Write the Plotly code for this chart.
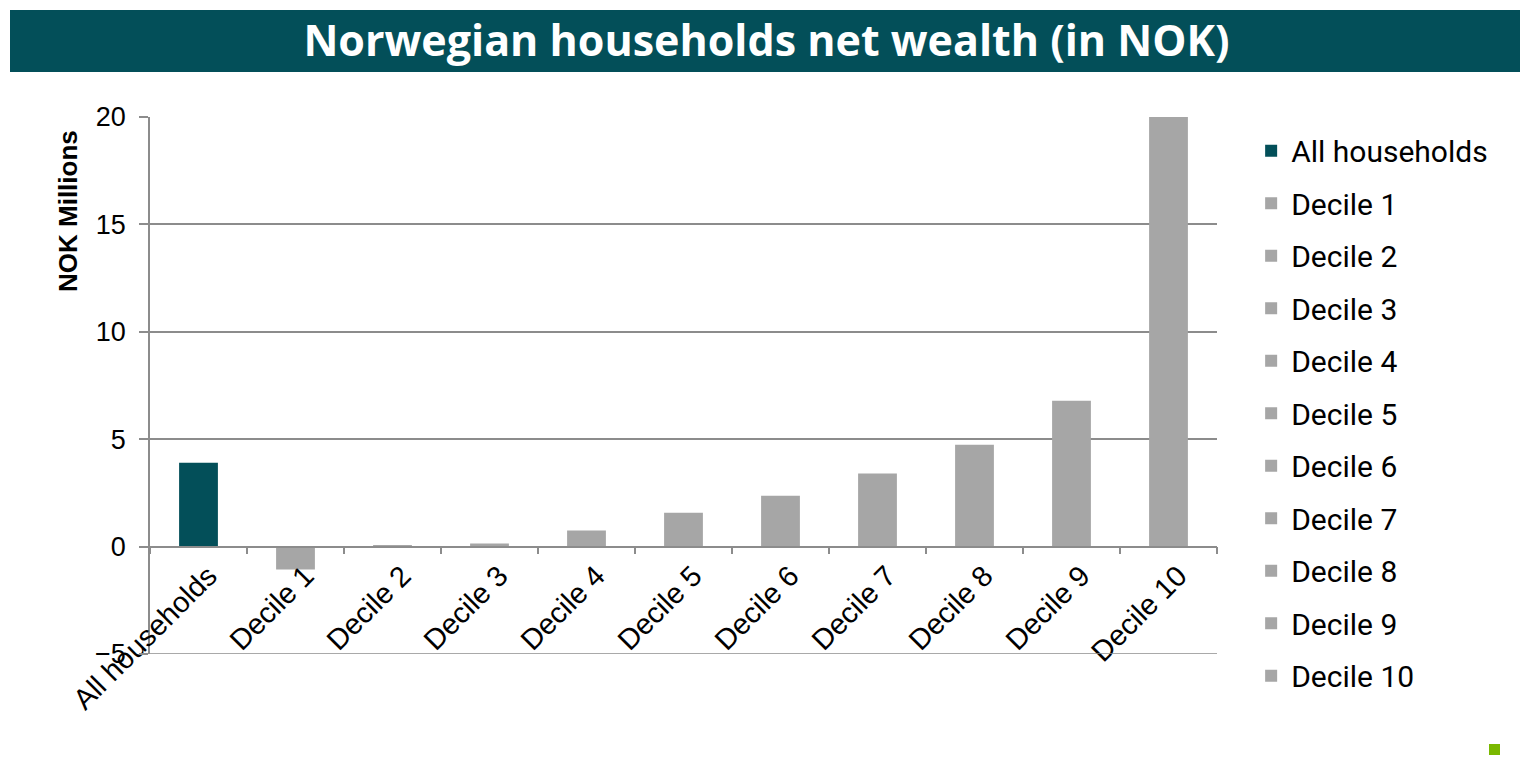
import plotly.graph_objects as go

categories = ["All households", "Decile 1", "Decile 2", "Decile 3", "Decile 4", "Decile 5",
              "Decile 6", "Decile 7", "Decile 8", "Decile 9", "Decile 10"]
values = [3.9, -1.07, 0.05, 0.14, 0.75, 1.58, 2.37, 3.4, 4.74, 6.79, 20.0]
colors = ["#034F59"] + ["#A6A6A6"] * 10
y_ticks = [-5, 0, 5, 10, 15, 20]
y_range = [-5.0, 20.0]

AXIS_FONT = "Liberation Sans, Arial, sans-serif"
GRID = "#8C8C8C"

fig = go.Figure()
for i, (c, v, col) in enumerate(zip(categories, values, colors)):
    fig.add_trace(go.Bar(
        x=[c], y=[v], name=c, marker=dict(color=col, line=dict(width=0)),
        width=0.4, legendgroup=f"g{i}", showlegend=True,
    ))

zero_pos = (0 - y_range[0]) / (y_range[1] - y_range[0])

fig.update_layout(
    width=1520, height=759,
    barmode="overlay",
    paper_bgcolor="white", plot_bgcolor="white",
    margin=dict(l=150, r=303, t=117, b=105),
    font=dict(family=AXIS_FONT, color="black"),
    title=dict(
        text="<b>Norwegian households net wealth (in NOK)</b>",
        x=766.5 / 1520, xref="container", xanchor="center",
        y=1 - 41 / 759, yref="container", yanchor="middle",
        font=dict(family="Open Sans, sans-serif", size=43, color="white"),
    ),
    xaxis=dict(
        type="category", categoryorder="array", categoryarray=categories,
        anchor="free", position=zero_pos,
        showline=True, linecolor=GRID, linewidth=1.5,
        ticks="outside", tickson="boundaries", ticklen=7, tickcolor=GRID, tickwidth=1.5,
        tickangle=-45, tickfont=dict(size=29, family=AXIS_FONT),
        ticklabelshift=10,
        showgrid=False, zeroline=False,
    ),
    yaxis=dict(
        range=y_range, tickvals=y_ticks,
        showline=True, linecolor=GRID, linewidth=1.5,
        ticks="outside", ticklen=9, tickcolor=GRID, tickwidth=1.5,
        tickfont=dict(size=27, family=AXIS_FONT), ticklabelstandoff=8,
        showgrid=True, gridcolor=GRID, gridwidth=1.5,
        zeroline=False,
    ),
    legend=dict(
        x=1.032, xanchor="left", y=0.9856, yanchor="top",
        font=dict(size=30, family="Roboto, sans-serif"),
        tracegroupgap=10.5, bgcolor="rgba(0,0,0,0)", maxheight=740,
    ),
    annotations=[dict(
        text="<b>NOK Millions</b>", textangle=-90,
        xref="paper", yref="paper",
        x=(68 - 150) / 1067, y=(654 - 211) / 537,
        xanchor="center", yanchor="middle", showarrow=False,
        font=dict(size=26, family=AXIS_FONT, color="black"),
    )],
    shapes=[
        dict(type="rect", xref="paper", yref="paper",
             x0=(10 - 150) / 1067, x1=(1520 - 150) / 1067,
             y0=(654 - 72) / 537, y1=(654 - 10) / 537,
             fillcolor="#034F59", line=dict(width=0), layer="below"),
        dict(type="rect", xref="paper", yref="paper",
             x0=(1489 - 150) / 1067, x1=(1500 - 150) / 1067,
             y0=(654 - 755) / 537, y1=(654 - 744) / 537,
             fillcolor="#7AB800", line=dict(width=0)),
        dict(type="line", xref="paper", yref="y",
             x0=0, x1=1, y0=y_ticks[0], y1=y_ticks[0],
             line=dict(color=GRID, width=1.5), layer="above"),
    ],
)

fig.write_html("out.html", config={"displayModeBar": False},
               post_script="document.body.style.margin='0';")
